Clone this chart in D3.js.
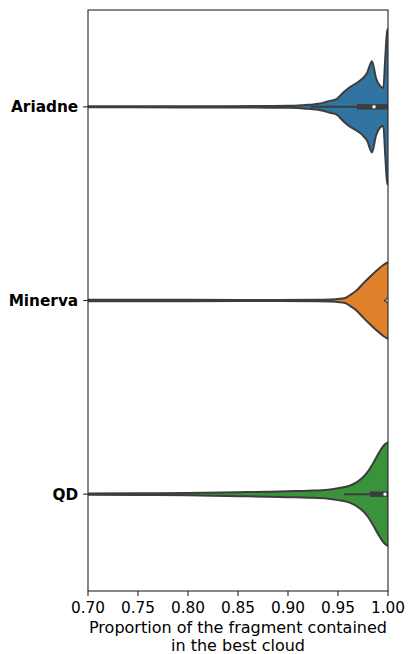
<!DOCTYPE html>
<html>
<head>
<meta charset="utf-8">
<script src="https://cdn.jsdelivr.net/npm/d3@7"></script>
<style>
  html, body { margin: 0; padding: 0; background: #fff; }
  svg { display: block; }
  text { font-family: "DejaVu Sans", sans-serif; fill: #000; }
</style>
</head>
<body>
<svg id="chart" width="408" height="654"></svg>
<script>
// Categories and their fill colours
const categories = ["Ariadne", "Minerva", "QD"];
const colors = ["#3274a1", "#e1812c", "#3a923a"];

// Kernel density profiles: evaluation points and density (arbitrary units)
const ariadneAt = [0.69, 0.80, 0.88, 0.90, 0.91, 0.915, 0.92, 0.925, 0.93, 0.935, 0.942, 0.949, 0.952, 0.957, 0.962, 0.967, 0.974, 0.979, 0.984, 0.988, 0.992, 0.9953, 0.9973, 0.9993, 1.01];
const ariadneDensity = [0.5, 0.6, 0.8, 1.0, 1.3, 1.7, 2.0, 2.4, 3.0, 4.0, 6.0, 8.0, 11, 16, 20, 23, 28, 34, 46, 29, 21, 19, 50, 78, 79];

const minervaAt = [0.69, 0.75, 0.85, 0.93, 0.942, 0.95, 0.957, 0.962, 0.969, 0.975, 0.982, 0.989, 0.995, 0.999, 1.01];
const minervaDensity = [0.6, 0.8, 0.6, 0.7, 1.0, 1.5, 2.5, 5.5, 10.5, 17, 24, 30.5, 35.5, 38, 40];

const qdAt = [0.69, 0.75, 0.80, 0.85, 0.88, 0.90, 0.92, 0.94, 0.95, 0.96, 0.965, 0.97, 0.975, 0.98, 0.985, 0.99, 0.995, 1.0, 1.01];
const qdDensity = [0.6, 0.8, 1.2, 2.0, 2.5, 3.0, 3.5, 4.5, 6, 8, 10, 13, 17, 23, 31, 40, 48, 52, 53];

// Box summaries per category
const whiskerLow = [0.923, 0.996, 0.956];
const boxQ1 = [0.969, 0.998, 0.982];
const boxMedian = [0.986, 1.000, 0.997];
const boxQ3 = [1.000, 1.000, 1.000];

// Axis ticks and title
const xTicks = [0.70, 0.75, 0.80, 0.85, 0.90, 0.95, 1.00];
const xTitle = ["Proportion of the fragment contained", "in the best cloud"];

const profiles = [
  { at: ariadneAt, density: ariadneDensity },
  { at: minervaAt, density: minervaDensity },
  { at: qdAt, density: qdDensity }
];

const W = 408, H = 654;
const margin = { left: 88, right: 20, top: 10, bottom: 63 };
const plotW = W - margin.left - margin.right;   // 300
const plotH = H - margin.top - margin.bottom;   // 581
const gray = "#3d3d3d";
const fontSize = 15.3;
const titleSize = 16;

const svg = d3.select("#chart");
const g = svg.append("g").attr("transform", `translate(${margin.left},${margin.top})`);

const x = d3.scaleLinear().domain([0.70, 1.00]).range([0, plotW]);
const y = d3.scaleBand().domain(categories).range([0, plotH]).paddingInner(0).paddingOuter(0);

const maxDensity = d3.max(profiles, p => d3.max(p.density));
const halfWidth = d3.scaleLinear().domain([0, maxDensity]).range([0, y.bandwidth() * 0.405]);

g.append("clipPath").attr("id", "plot-clip")
  .append("rect").attr("x", 0).attr("y", 0).attr("width", plotW).attr("height", plotH);

const plot = g.append("g").attr("clip-path", "url(#plot-clip)");

categories.forEach((cat, i) => {
  const cy = y(cat) + y.bandwidth() / 2;
  const pts = profiles[i].at.map((v, k) => ({ v, d: profiles[i].density[k] }));
  const area = d3.area()
    .x(p => x(p.v))
    .y0(p => cy - halfWidth(p.d))
    .y1(p => cy + halfWidth(p.d))
    .curve(d3.curveMonotoneX);

  plot.append("path")
    .attr("d", area(pts))
    .attr("fill", colors[i])
    .attr("stroke", gray)
    .attr("stroke-width", 2)
    .attr("stroke-linejoin", "round");

  // inner box: whisker, interquartile bar, median dot
  plot.append("line")
    .attr("x1", x(whiskerLow[i])).attr("x2", x(boxQ3[i]))
    .attr("y1", cy).attr("y2", cy)
    .attr("stroke", gray).attr("stroke-width", 2);
  plot.append("line")
    .attr("x1", x(boxQ1[i])).attr("x2", x(boxQ3[i]))
    .attr("y1", cy).attr("y2", cy)
    .attr("stroke", gray).attr("stroke-width", 5.5);
  plot.append("circle")
    .attr("cx", x(boxMedian[i])).attr("cy", cy).attr("r", 2)
    .attr("fill", "#fff").attr("stroke", gray).attr("stroke-width", 0.6);
});

// frame
g.append("rect")
  .attr("x", 0).attr("y", 0).attr("width", plotW).attr("height", plotH)
  .attr("fill", "none").attr("stroke", "#262626").attr("stroke-width", 1.1);

// x axis ticks and labels
const xt = g.append("g").attr("transform", `translate(0,${plotH})`);
xTicks.forEach(t => {
  xt.append("line").attr("x1", x(t)).attr("x2", x(t)).attr("y1", 0).attr("y2", 4.9)
    .attr("stroke", "#262626").attr("stroke-width", 1.1);
  xt.append("text").attr("x", x(t)).attr("y", 22)
    .attr("text-anchor", "middle").attr("font-size", fontSize)
    .text(d3.format(".2f")(t));
});

// x title
xTitle.forEach((line, k) => {
  g.append("text")
    .attr("x", plotW / 2).attr("y", plotH + 42 + k * 18.2)
    .attr("text-anchor", "middle").attr("font-size", titleSize)
    .text(line);
});

// y axis ticks and labels
categories.forEach(cat => {
  const cy = y(cat) + y.bandwidth() / 2;
  g.append("line").attr("x1", -4.9).attr("x2", 0).attr("y1", cy).attr("y2", cy)
    .attr("stroke", "#262626").attr("stroke-width", 1.1);
  g.append("text").attr("x", -9.8).attr("y", cy).attr("dy", "0.36em")
    .attr("text-anchor", "end").attr("font-size", fontSize).attr("font-weight", "bold")
    .text(cat);
});
</script>
</body>
</html>
